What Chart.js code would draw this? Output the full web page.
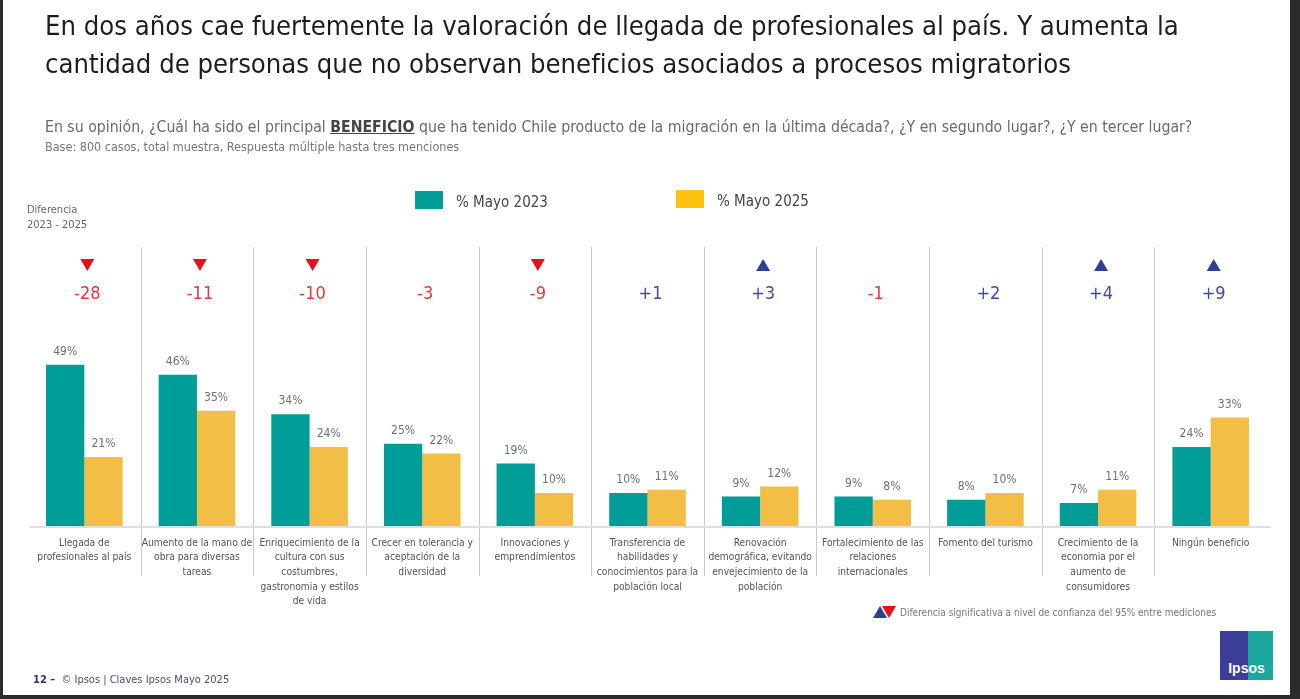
<!DOCTYPE html>
<html lang="es">
<head>
<meta charset="utf-8">
<title>Beneficio de la migración</title>
<script src="https://cdn.jsdelivr.net/npm/chart.js@4.4.0/dist/chart.umd.min.js"></script>
<style>
  body { margin: 0; background: #fff; }
  #page {
    position: relative; width: 1300px; height: 699px; overflow: hidden; background: #fff;
    font-family: "Liberation Sans Narrow", "DejaVu Sans Condensed", sans-serif;
  }
  #grafico { position: absolute; left: 0; top: 0; }
  .txt { position: absolute; white-space: nowrap; }
  #titulo { left: 45px; top: 7px; font-size: 27.2px; line-height: 38px; color: #1d1d1d; }
  #pregunta { left: 45px; top: 117px; font-size: 15.7px; color: #6a6a6a; }
  #pregunta b { color: #444; text-decoration: underline; }
  #base { left: 45px; top: 139px; font-size: 12.5px; color: #777; }
  #dif { left: 27px; top: 202px; font-size: 11px; line-height: 15px; color: #666; }
  .caja { position: absolute; width: 28px; height: 18px; }
  .leyenda { font-size: 15px; color: #444; }
  #nota { left: 900px; top: 607px; font-size: 10px; color: #777; }
  #pie { left: 33px; top: 673px; font-size: 11px; color: #4a4f73; }
  #pie b { color: #2f3566; }
  #logo {
    position: absolute; left: 1220px; top: 631px; width: 53px; height: 49px;
    background: linear-gradient(to right, #3b3d98 52%, #19a89b 52%);
    color: #fff; font-family: "Liberation Sans", sans-serif; font-weight: bold; font-size: 14px;
    text-align: center; line-height: 16px;
  }
  #logo span { position: absolute; left: 0; right: 0; bottom: 4px; }
  .marco { position: absolute; background: #2b2b2b; }
</style>
</head>
<body>
<div id="page">
  <canvas id="grafico" width="1300" height="699"></canvas>

  <div class="txt" id="titulo">En dos años cae fuertemente la valoración de llegada de profesionales al país. Y aumenta la<br>cantidad de personas que no observan beneficios asociados a procesos migratorios</div>
  <div class="txt" id="pregunta">En su opinión, ¿Cuál ha sido el principal <b>BENEFICIO</b> que ha tenido Chile producto de la migración en la última década?, ¿Y en segundo lugar?, ¿Y en tercer lugar?</div>
  <div class="txt" id="base">Base: 800 casos, total muestra, Respuesta múltiple hasta tres menciones</div>
  <div class="txt" id="dif">Diferencia<br>2023 - 2025</div>

  <div class="caja" style="left:415px; top:191px; background:#009c98;"></div>
  <div class="txt leyenda" style="left:456px; top:193px;">% Mayo 2023</div>
  <div class="caja" style="left:676px; top:190px; background:#ffc20e;"></div>
  <div class="txt leyenda" style="left:717px; top:192px;">% Mayo 2025</div>

  <div class="txt" id="nota">Diferencia significativa a nivel de confianza del 95% entre mediciones</div>
  <div class="txt" id="pie"><b>12 –</b>&nbsp;&nbsp;© Ipsos | Claves Ipsos Mayo 2025</div>
  <div id="logo"><span>Ipsos</span></div>

  <div class="marco" style="left:0; top:0; width:3px; height:699px;"></div>
  <div class="marco" style="left:1290px; top:0; width:10px; height:699px;"></div>
  <div class="marco" style="left:0; top:695px; width:1300px; height:4px;"></div>
</div>

<script>
// Datos
var categorias = [
    ['Llegada de', 'profesionales al país'],
    ['Aumento de la mano de', 'obra para diversas', 'tareas'],
    ['Enriquecimiento de la', 'cultura con sus', 'costumbres,', 'gastronomia y estilos', 'de vida'],
    ['Crecer en tolerancia y', 'aceptación de la', 'diversidad'],
    ['Innovaciones y', 'emprendimientos'],
    ['Transferencia de', 'habilidades y', 'conocimientos para la', 'población local'],
    ['Renovación', 'demográfica, evitando', 'envejecimiento de la', 'población'],
    ['Fortalecimiento de las', 'relaciones', 'internacionales'],
    ['Fomento del turismo'],
    ['Crecimiento de la', 'economia por el', 'aumento de', 'consumidores'],
    ['Ningún beneficio']
];
var mayo2023 = [49, 46, 34, 25, 19, 10, 9, 9, 8, 7, 24];
var mayo2025 = [21, 35, 24, 22, 10, 11, 12, 8, 10, 11, 33];
var diferencia = [-28, -11, -10, -3, -9, 1, 3, -1, 2, 4, 9];
var significativa = ['baja', 'baja', 'baja', '', 'baja', '', 'sube', '', '', 'sube', 'sube'];

var FUENTE = '"Liberation Sans Narrow", "DejaVu Sans Condensed", sans-serif';
var ROJO = '#e8101a';
var AZUL = '#2f3f96';

function triangulo(ctx, x, y, arriba, color) {
    ctx.beginPath();
    if (arriba) {
        ctx.moveTo(x - 7, y + 6); ctx.lineTo(x + 7, y + 6); ctx.lineTo(x, y - 6);
    } else {
        ctx.moveTo(x - 7, y - 6); ctx.lineTo(x + 7, y - 6); ctx.lineTo(x, y + 6);
    }
    ctx.closePath();
    ctx.fillStyle = color;
    ctx.fill();
}

// Separadores, línea base, etiquetas y diferencias
var adornos = {
    id: 'adornos',
    beforeDatasetsDraw: function (chart) {
        var ctx = chart.ctx, xs = chart.scales.x, area = chart.chartArea;
        ctx.save();
        ctx.strokeStyle = '#c9c9c9';
        ctx.lineWidth = 1;
        for (var i = 1; i < categorias.length; i++) {
            var xl = Math.round((xs.getPixelForValue(i - 1) + xs.getPixelForValue(i)) / 2) + 0.5;
            ctx.beginPath();
            ctx.moveTo(xl, area.top + 50);
            ctx.lineTo(xl, area.bottom + 50);
            ctx.stroke();
        }
        ctx.strokeStyle = '#dedede';
        ctx.lineWidth = 2;
        ctx.beginPath();
        ctx.moveTo(area.left + 2, area.bottom + 1);
        ctx.lineTo(area.right + 3, area.bottom + 1);
        ctx.stroke();
        ctx.restore();
    },
    afterDatasetsDraw: function (chart) {
        var ctx = chart.ctx, xs = chart.scales.x, area = chart.chartArea;
        ctx.save();
        ctx.textAlign = 'center';
        ctx.textBaseline = 'middle';

        // valores sobre las barras
        ctx.font = '12px ' + FUENTE;
        ctx.fillStyle = '#707070';
        chart.data.datasets.forEach(function (ds, d) {
            chart.getDatasetMeta(d).data.forEach(function (bar, i) {
                ctx.fillText(ds.data[i] + '%', bar.x, bar.y - 13);
            });
        });

        // nombres de categoría
        ctx.font = '10.2px ' + FUENTE;
        ctx.fillStyle = '#555';
        categorias.forEach(function (lineas, i) {
            var cx = xs.getPixelForValue(i);
            lineas.forEach(function (t, k) {
                ctx.fillText(t, cx, area.bottom + 17 + k * 14.7);
            });
        });

        // diferencias 2023 - 2025
        ctx.font = '18px ' + FUENTE;
        diferencia.forEach(function (v, i) {
            var cx = xs.getPixelForValue(i) + 3;
            ctx.fillStyle = v < 0 ? '#e03a3a' : '#3d4c9c';
            ctx.fillText((v > 0 ? '+' : '') + v, cx, area.top + 97);
            if (significativa[i] === 'baja') triangulo(ctx, cx, area.top + 68, false, ROJO);
            if (significativa[i] === 'sube') triangulo(ctx, cx, area.top + 68, true, AZUL);
        });

        // leyenda de significancia
        triangulo(ctx, 880, 612, true, AZUL);
        triangulo(ctx, 889, 612, false, ROJO);
        ctx.restore();
    }
};

var ctx = document.getElementById('grafico').getContext('2d');
var chart = new Chart(ctx, {
    type: 'bar',
    data: {
        labels: categorias,
        datasets: [{
            label: '% Mayo 2023',
            data: mayo2023,
            backgroundColor: '#009c98'
        }, {
            label: '% Mayo 2025',
            data: mayo2025,
            backgroundColor: '#f2be45'
        }]
    },
    options: {
        responsive: false,
        animation: false,
        layout: { padding: { left: 28, right: 33, top: 197, bottom: 173 } },
        datasets: { bar: { categoryPercentage: 0.68, barPercentage: 1.0 } },
        scales: {
            x: { display: false },
            y: { display: false, min: 0, max: 100 }
        },
        plugins: {
            legend: { display: false },
            tooltip: { enabled: false }
        }
    },
    plugins: [adornos]
});
</script>
</body>
</html>
